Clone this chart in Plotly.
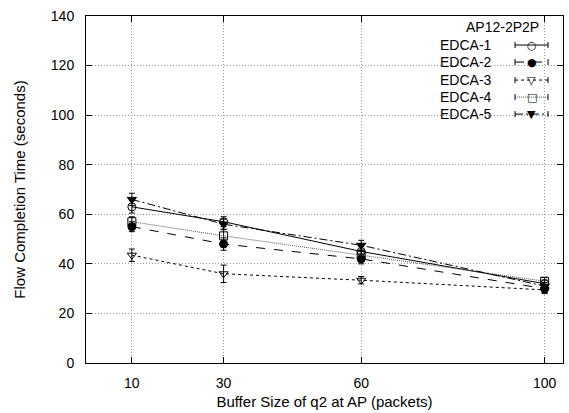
import plotly.graph_objects as go

buffer_sizes = [10, 30, 60, 100]
series_names = ["EDCA-1", "EDCA-2", "EDCA-3", "EDCA-4", "EDCA-5"]
edca1 = [63.0, 57.0, 45.0, 32.0]
edca2 = [55.0, 48.0, 42.0, 30.0]
edca3 = [43.5, 36.0, 33.4, 29.5]
edca4 = [57.0, 51.3, 43.5, 33.0]
edca5 = [66.0, 56.0, 47.5, 31.0]
edca1_err = [2.5, 2.0, 2.0, 1.5]
edca2_err = [2.0, 2.5, 2.0, 1.5]
edca3_err = [2.5, 3.5, 1.5, 1.5]
edca4_err = [2.0, 2.5, 2.0, 1.5]
edca5_err = [2.5, 2.0, 2.0, 1.5]
y_ticks = [0, 20, 40, 60, 80, 100, 120, 140]
legend_title = "AP12-2P2P"

values = [edca1, edca2, edca3, edca4, edca5]
errors = [edca1_err, edca2_err, edca3_err, edca4_err, edca5_err]
dashes = ["solid", "dash", "dot", "1px,1px", "8px,3px,2px,3px"]
symbols = ["circle-open", "circle", "triangle-down-open", "square-open", "triangle-down"]
glyphs = ["○", "●", "▽", "□", "▼"]
line_colors = ["black", "black", "black", "#555555", "black"]

fig = go.Figure()
for name, v, e, d, s, c in zip(series_names, values, errors, dashes, symbols, line_colors):
    fig.add_trace(go.Scatter(
        x=buffer_sizes, y=v, name=name, mode="lines+markers",
        line=dict(color=c, width=1, dash=d),
        marker=dict(symbol=s, size=8, color="black", line=dict(color="black", width=1)),
        error_y=dict(type="data", array=e, visible=True, color="black", thickness=1, width=3),
        showlegend=False,
    ))

# plot-area pixel geometry for the custom gnuplot-style legend
L, R, T, B = 85.6, 563.0, 16.0, 362.7
def px(xp):
    return (xp - L) / (R - L)
def py(yp):
    return (B - yp) / (B - T)

font = dict(family="Liberation Sans, Arial, sans-serif", size=14, color="black")
title_font = dict(family="Liberation Sans, Arial, sans-serif", size=15, color="black")
fig.add_annotation(x=px(541), y=py(27), xref="paper", yref="paper", text=legend_title,
                   showarrow=False, xanchor="right", yanchor="middle", font=font)
rows = [45, 62, 80, 97, 114]
for name, yrow, d, c, g in zip(series_names, rows, dashes, line_colors, glyphs):
    fig.add_annotation(x=px(494), y=py(yrow), xref="paper", yref="paper", text=name,
                       showarrow=False, xanchor="right", yanchor="middle", font=font)
    fig.add_shape(type="line", xref="paper", yref="paper", x0=px(515), x1=px(548),
                  y0=py(yrow), y1=py(yrow), line=dict(color=c, width=1, dash=d))
    for xc in (515, 548):
        fig.add_shape(type="line", xref="paper", yref="paper", x0=px(xc), x1=px(xc),
                      y0=py(yrow - 3), y1=py(yrow + 3), line=dict(color="black", width=1))
    fig.add_annotation(x=px(531.5), y=py(yrow), xref="paper", yref="paper", text=g,
                       showarrow=False, xanchor="center", yanchor="middle",
                       font=dict(family="DejaVu Sans", size=11, color="black"))

axis_common = dict(
    showline=True, linecolor="black", linewidth=1, mirror="ticks",
    ticks="inside", ticklen=6, tickcolor="black",
    showgrid=True, gridcolor="#999999", griddash="1px,2px", gridwidth=1,
    zeroline=False, tickfont=font, automargin=False,
)
fig.update_xaxes(range=[0, 104], tickvals=buffer_sizes,
                 title=dict(text="Buffer Size of q2 at AP (packets)", font=title_font, standoff=6),
                 ticklabelstandoff=7, **axis_common)
fig.update_yaxes(range=[0, 140], tickvals=y_ticks,
                 title=dict(text="Flow Completion Time (seconds)", font=title_font, standoff=21),
                 ticklabelstandoff=8, **axis_common)

fig.update_layout(
    width=569, height=413,
    margin=dict(l=85.6, r=6, t=16, b=50.3),
    paper_bgcolor="white", plot_bgcolor="white",
    font=font,
)
fig.write_html("out.html", config={"displayModeBar": False},
               post_script="document.body.style.margin='0';")
